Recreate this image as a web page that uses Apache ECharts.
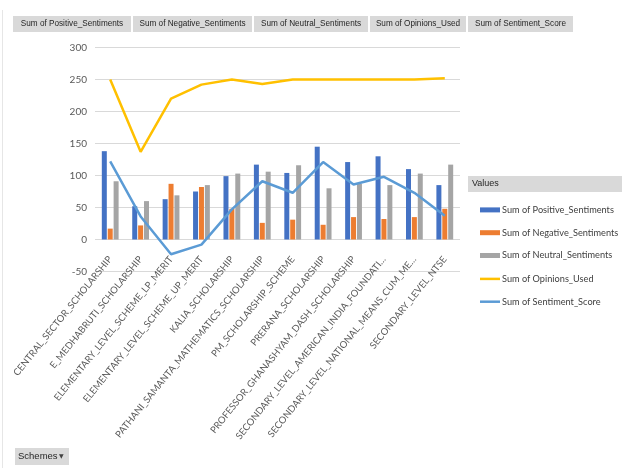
<!DOCTYPE html>
<html>
<head>
<meta charset="utf-8">
<script src="https://cdn.jsdelivr.net/npm/echarts@6/dist/echarts.min.js"></script>
<style>
html,body{margin:0;padding:0;background:#fff;}
#c{width:622px;height:468px;}
</style>
</head>
<body>
<div id="c"></div>
<script>
var categories = ['CENTRAL_SECTOR_SCHOLARSHIP','E_MEDHABRUTI_SCHOLARSHIP','ELEMENTARY_LEVEL_SCHEME_LP_MERIT','ELEMENTARY_LEVEL_SCHEME_UP_MERIT','KALIA_SCHOLARSHIP','PATHANI_SAMANTA_MATHEMATICS_SCHOLARSHIP','PM_SCHOLARSHIP_SCHEME','PRERANA_SCHOLARSHIP','PROFESSOR_GHANASHYAM_DASH_SCHOLARSHIP','SECONDARY_LEVEL_AMERICAN_INDIA_FOUNDATI…','SECONDARY_LEVEL_NATIONAL_MEANS_CUM_ME…','SECONDARY_LEVEL_NTSE'];
var positiveSentiments = [138,52,63,75,99,117,104,145,121,130,110,85];
var negativeSentiments = [17,22,87,82,48,26,31,23,35,32,35,48];
var neutralSentiments = [91,60,69,85,103,106,116,80,87,85,103,117];
var opinionsUsed = [250,137,220,242,250,243,250,250,250,250,250,252];
var sentimentScore = [122,36,-23,-8,47,91,73,121,86,98,73,37];
var yTicks = {min:-50, max:300, interval:50};
var seriesNames = ['Sum of Positive_Sentiments','Sum of Negative_Sentiments','Sum of Neutral_Sentiments','Sum of Opinions_Used','Sum of Sentiment_Score'];
var headerButtons = [
  {label:'Sum of Positive_Sentiments', x0:13, x1:131},
  {label:'Sum of Negative_Sentiments', x0:133, x1:252},
  {label:'Sum of Neutral_Sentiments', x0:254, x1:368},
  {label:'Sum of Opinions_Used', x0:370, x1:466},
  {label:'Sum of Sentiment_Score', x0:468, x1:573}
];
var colors = ['#4472C4','#ED7D31','#A5A5A5','#FFC000','#5B9BD5'];

var chart = echarts.init(document.getElementById('c'), null, {renderer:'canvas'});

var graphics = [];
graphics.push({type:'line', shape:{x1:2.5,y1:10,x2:2.5,y2:468}, style:{stroke:'#e6e6e6', lineWidth:1}, silent:true});
headerButtons.forEach(function(b){
  graphics.push({type:'rect', shape:{x:b.x0, y:16, width:b.x1-b.x0, height:16}, style:{fill:'#d9d9d9'}, silent:true});
  graphics.push({type:'text', x:(b.x0+b.x1)/2, y:24, style:{text:b.label, fill:'#262626', font:'8.2px "Liberation Sans", Arial, sans-serif', align:'center', verticalAlign:'middle'}, silent:true});
});
graphics.push({type:'rect', shape:{x:468, y:176, width:154, height:16}, style:{fill:'#d9d9d9'}, silent:true});
graphics.push({type:'text', x:472, y:184, style:{text:'Values', fill:'#262626', font:'9px "Liberation Sans", Arial, sans-serif', verticalAlign:'middle'}, silent:true});
graphics.push({type:'rect', shape:{x:15, y:448, width:54, height:17}, style:{fill:'#d9d9d9'}, silent:true});
graphics.push({type:'text', x:18, y:456.5, style:{text:'Schemes', fill:'#262626', font:'9.5px "Liberation Sans", Arial, sans-serif', verticalAlign:'middle'}, silent:true});
graphics.push({type:'text', x:59, y:456.5, style:{text:'▼', fill:'#404040', font:'6px "DejaVu Sans", sans-serif', verticalAlign:'middle'}, silent:true});

var legendText = {color:'#404040', fontSize:9.2, fontFamily:'Lato, "Liberation Sans", sans-serif', padding:[0,0,0,-3]};
var option = {
  animation:false,
  color: colors,
  textStyle:{fontFamily:'Lato, "Liberation Sans", sans-serif'},
  grid:{left:95, right:162, top:47.5, bottom:196.5, containLabel:false},
  legend:[
    {data:[seriesNames[0],seriesNames[1],seriesNames[2]], orient:'vertical', left:475, top:200.4, itemWidth:20, itemHeight:5, itemGap:13.8, icon:'rect', textStyle:legendText},
    {data:[seriesNames[3],seriesNames[4]], orient:'vertical', left:475, top:269.4, itemWidth:20, itemHeight:2.5, itemGap:13.8, icon:'rect', textStyle:legendText}
  ],
  xAxis:{
    type:'category', data:categories,
    axisLine:{show:false, onZero:false},
    axisTick:{show:false},
    axisLabel:{interval:0, rotate:51, margin:-14, color:'#595959', fontSize:9.5, fontFamily:'Lato, "Liberation Sans", sans-serif'}
  },
  yAxis:{
    type:'value', min:yTicks.min, max:yTicks.max, interval:yTicks.interval,
    axisLine:{show:false}, axisTick:{show:false},
    axisLabel:{color:'#595959', fontSize:10, margin:8},
    splitLine:{lineStyle:{color:'#d9d9d9'}}
  },
  series:[
    {name:seriesNames[0], type:'bar', data:positiveSentiments, barWidth:5, barGap:'18%', itemStyle:{color:colors[0]}},
    {name:seriesNames[1], type:'bar', data:negativeSentiments, barWidth:5, barGap:'18%', itemStyle:{color:colors[1]}},
    {name:seriesNames[2], type:'bar', data:neutralSentiments, barWidth:5, barGap:'18%', itemStyle:{color:colors[2]}},
    {name:seriesNames[3], type:'line', data:opinionsUsed, symbol:'none', lineStyle:{width:2.5, color:colors[3]}, itemStyle:{color:colors[3]}, z:3},
    {name:seriesNames[4], type:'line', data:sentimentScore, symbol:'none', lineStyle:{width:2.5, color:colors[4]}, itemStyle:{color:colors[4]}, z:3}
  ],
  graphic:graphics
};
chart.setOption(option);
</script>
</body>
</html>
